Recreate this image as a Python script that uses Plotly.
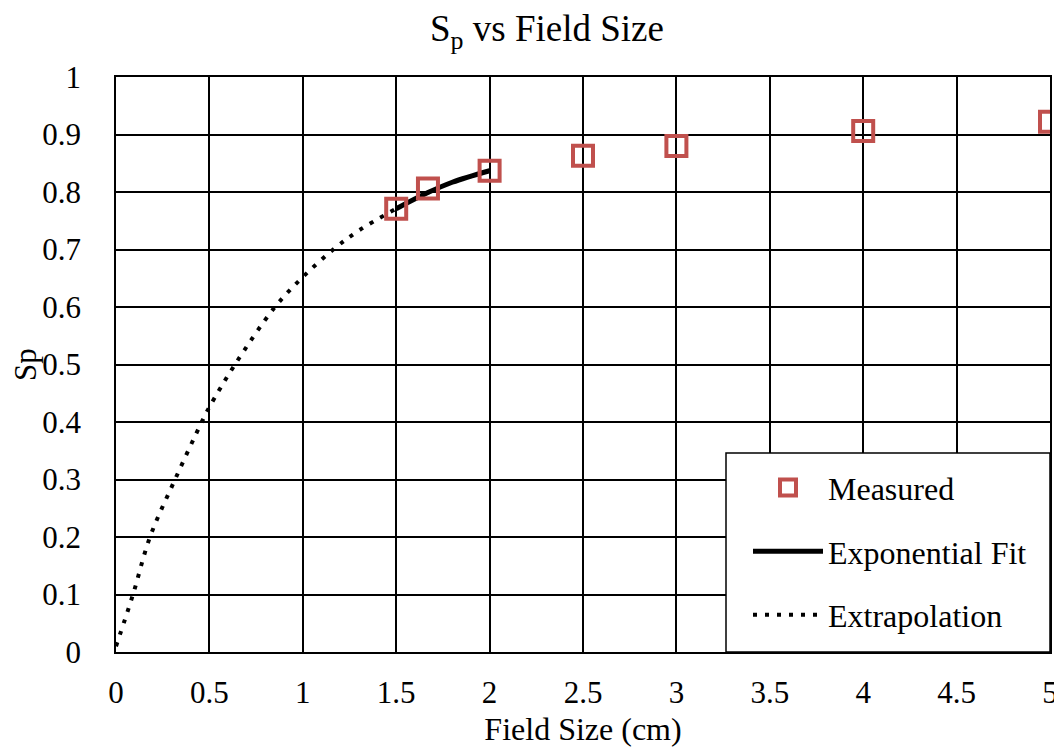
import plotly.graph_objects as go

# Measured output factors
meas_x = [1.5, 1.67, 2.0, 2.5, 3.0, 4.0, 5.0]
meas_y = [0.771, 0.806, 0.837, 0.863, 0.880, 0.906, 0.922]

# Exponential fit over the measured small-field range
fit_x = [1.5, 1.67, 1.8, 2.0]
fit_y = [0.771, 0.799, 0.817, 0.837]

# Extrapolation toward zero field size
ext_x = [0.0, 0.091, 0.182, 0.316, 0.459, 0.5, 0.637, 0.851, 1.0, 1.163, 1.3, 1.5]
ext_y = [0.01, 0.10, 0.20, 0.30, 0.40, 0.426, 0.50, 0.60, 0.652, 0.70, 0.733, 0.771]

x_ticks = [0, 0.5, 1, 1.5, 2, 2.5, 3, 3.5, 4, 4.5, 5]
y_ticks = [0, 0.1, 0.2, 0.3, 0.4, 0.5, 0.6, 0.7, 0.8, 0.9, 1]

FONT = "Liberation Serif, Times New Roman, serif"
RED = "#C0504D"

# The page body adds an 8px margin; the figure is offset to compensate.
OFF = 8
W, H = 1062 - OFF, 755 - 2 * OFF

fig = go.Figure()
fig.add_trace(go.Scatter(
    x=ext_x, y=ext_y, mode="lines", name="Extrapolation",
    line=dict(color="black", width=4, dash="4px,8px", shape="spline"),
    legendrank=3, legendgroup="c",
))
fig.add_trace(go.Scatter(
    x=fit_x, y=fit_y, mode="lines", name="Exponential Fit",
    line=dict(color="black", width=5, shape="spline"),
    legendrank=2, legendgroup="b",
))
fig.add_trace(go.Scatter(
    x=meas_x, y=meas_y, mode="markers", name="Measured",
    marker=dict(symbol="square-open", size=20, color=RED, line=dict(color=RED, width=4)),
    legendrank=1, legendgroup="a",
))

axis_common = dict(
    showgrid=True, gridcolor="black", gridwidth=1.5,
    showline=True, linecolor="black", linewidth=1.5, mirror=True,
    zeroline=False, ticks="", automargin=False, ticklabeloverflow="allow",
    tickfont=dict(family=FONT, size=31, color="black"),
)

fig.update_layout(
    width=W, height=H,
    paper_bgcolor="white", plot_bgcolor="white",
    margin=dict(l=116 - OFF, r=1062 - OFF - 1050 + OFF, t=77 - OFF, b=755 - OFF - 652),
    font=dict(family=FONT, color="black"),
    title=dict(text="S<sub>p</sub> vs Field Size", x=(547 - OFF) / W, xanchor="center",
               y=1 - 7 / H, yanchor="top", font=dict(family=FONT, size=37, color="black")),
    xaxis=dict(range=[0, 5], tickvals=x_ticks, ticklabelstandoff=12,
               title=dict(text="Field Size (cm)",
                          font=dict(family=FONT, size=32, color="black"), standoff=14),
               **axis_common),
    yaxis=dict(range=[0, 1], tickvals=y_ticks, ticklabelstandoff=27,
               title=dict(text="Sp",
                          font=dict(family=FONT, size=31, color="black"), standoff=1),
               **axis_common),
    legend=dict(x=(748 - 116) / 934, y=0.017, xanchor="left", yanchor="bottom",
                bgcolor="rgba(0,0,0,0)", borderwidth=0,
                font=dict(family=FONT, size=32, color="black"),
                traceorder="grouped", tracegroupgap=19, itemwidth=70),
    shapes=[dict(type="rect", xref="paper", yref="paper",
                 x0=(726 - 116) / 934, x1=1, y0=0, y1=(652 - 453) / 575,
                 fillcolor="white", line=dict(color="black", width=1.5), layer="above")],
    showlegend=True,
)

fig.write_html("out.html")
